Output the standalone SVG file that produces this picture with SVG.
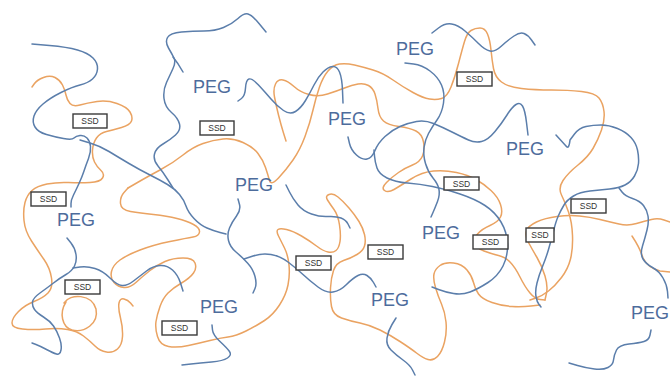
<svg xmlns="http://www.w3.org/2000/svg" width="670" height="378" viewBox="0 0 670 378">
  <style>
    .peg-chain { fill: none; stroke: #5b7eab; stroke-width: 1.5; stroke-linecap: round; stroke-linejoin: round; }
    .ssd-chain { fill: none; stroke: #eaa362; stroke-width: 1.5; stroke-linecap: round; stroke-linejoin: round; }
    .box rect { fill: #ffffff; stroke: #3a3a3a; stroke-width: 1.4; }
    .box text { font-family: "Liberation Sans", Arial, sans-serif; font-size: 8.5px; fill: #333333; text-anchor: middle; }
    .peg { font-family: "Liberation Sans", Arial, sans-serif; font-size: 18px; fill: #4d6c9c; }
  </style>
  <rect width="670" height="378" fill="#ffffff"/>

  <!-- orange chains -->
  <g id="orange-chains">
    <path class="ssd-chain" d="M128,188 L137.5,182.5 Q147,177 160,170 Q173,163 183,155 Q193,147 203,143.5 Q213,140 223,139 Q233,138 243,142.5 Q253,147 258,153.5 Q263,160 265.5,167.5 Q268,175 269.5,180.5 Q271,186 278.5,178 Q286,170 293,160 Q300,150 305,136.5 Q310,123 313,110 Q316,97 319.5,87 Q323,77 328,71 Q333,65 339.5,64 Q346,63 354.5,65 Q363,67 373,70 Q383,73 393,80 Q403,87 413,92.5 Q423,98 429.5,99 Q436,100 441.5,98.5 Q447,97 451,87 Q455,77 458.5,63.5 Q462,50 464.5,41.5 Q467,33 471,30.5 Q475,28 480,28 Q485,28 487.5,34 Q490,40 491,50 Q492,60 493.5,68.5 Q495,77 501.5,82 Q508,87 521.5,88.5 Q535,90 551.5,90 Q568,90 581.5,91.5 Q595,93 599,98 Q603,103 604,111.5 Q605,120 601.5,130 Q598,140 593,148.5 Q588,157 578,165 Q568,173 563,180.5 Q558,188 561.5,195 Q565,202 568.5,212 Q572,222 572.5,235.5 Q573,249 570.5,259 Q568,269 561.5,277.5 Q555,286 548.5,291 Q542,296 536,298 L530,300"/>
    <path class="ssd-chain" d="M128,188 L124,192.5 Q120,197 120.5,203.5 Q121,210 130.5,211.5 Q140,213 153.5,214.5 Q167,216 177,218.5 Q187,221 193.5,224.5 Q200,228 199.5,232 Q199,236 193,237 Q187,238 170,241.5 Q153,245 140,250 Q127,255 120,260 Q113,265 111.5,271.5 Q110,278 114,282.5 Q118,287 124,287.5 Q130,288 136.5,282 Q143,276 150,270.5 Q157,265 165,261.5 Q173,258 183,258 Q193,258 195,263 Q197,268 193.5,273 Q190,278 181.5,283 Q173,288 168,293 Q163,298 160,306.5 Q157,315 156,321.5 Q155,328 157.5,336.5 Q160,345 168.5,346.5 Q177,348 188.5,345.5 Q200,343 210,340.5 Q220,338 228,337 Q236,336 246,331 Q256,326 264.5,320.5 Q273,315 279.5,305 Q286,295 288,285 Q290,275 289,265 Q288,255 284.5,248 Q281,241 278.5,236 Q276,231 278,229.5 Q280,228 286.5,229.5 Q293,231 301.5,236 Q310,241 316.5,246 Q323,251 328,252 Q333,253 336,250.5 Q339,248 340,241.5 Q341,235 339.5,225 Q338,215 334,209.5 Q330,204 327.5,200 Q325,196 329,194.5 Q333,193 338,197 Q343,201 349,208 Q355,215 359,221.5 Q363,228 364.5,234.5 Q366,241 364.5,246 Q363,251 357,254.5 Q351,258 343.5,260.5 Q336,263 333.5,270.5 Q331,278 330.5,288 Q330,298 331.5,306.5 Q333,315 341.5,318 Q350,321 360,323 Q370,325 380,330 Q390,335 400,341.5 Q410,348 416.5,353 Q423,358 428,359.5 Q433,361 437.5,356.5 Q442,352 444.5,342 Q447,332 446,322 Q445,312 441.5,304 Q438,296 435.5,287.5 Q433,279 434,274 Q435,269 440,265.5 Q445,262 453.5,263 Q462,264 467,270 Q472,276 473.5,282.5 Q475,289 478.5,294 Q482,299 492,302.5 Q502,306 512,306.5 Q522,307 531,306 L540,305"/>
    <path class="ssd-chain" d="M286,141 L283.5,133 Q281,125 278.5,115 Q276,105 274.5,97 Q273,89 275.5,84 Q278,79 283,80 Q288,81 294,86.5 Q300,92 309,94.5 Q318,97 327.5,94 Q337,91 344.5,88 Q352,85 358,84 Q364,83 368.5,85.5 Q373,88 375,94 Q377,100 378,108.5 Q379,117 383.5,121 Q388,125 399,126.5 Q410,128 416,131 Q422,134 423.5,142 Q425,150 422.5,156 Q420,162 412.5,165 Q405,168 398.5,172.5 Q392,177 386.5,182.5 Q381,188 384.5,190.5 Q388,193 394,189.5 Q400,186 411,179 Q422,172 433.5,171 Q445,170 456.5,172.5 Q468,175 476,179.5 Q484,184 491,190.5 Q498,197 500.5,204.5 Q503,212 500.5,217 Q498,222 490,225.5 Q482,229 477.5,234 Q473,239 474.5,243.5 Q476,248 484,251 Q492,254 498.5,255.5 Q505,257 510,262 Q515,267 520,277 Q525,287 530,293 Q535,299 540,299.5 L545,300"/>
    <path class="ssd-chain" d="M32,87 L34.5,83.5 Q37,80 43.5,77.5 Q50,75 55,77.5 Q60,80 62.5,85 Q65,90 66,95 Q67,100 70,103.5 Q73,107 80,105 Q87,103 97,101.5 Q107,100 117,103.5 Q127,107 130,112 Q133,117 131.5,121 Q130,125 121.5,127.5 Q113,130 106.5,131.5 Q100,133 96.5,138 Q93,143 92.5,150 Q92,157 94.5,162 Q97,167 101,170.5 Q105,174 102.5,178 Q100,182 90,182.5 Q80,183 68.5,182.5 Q57,182 47,184 Q37,186 32,190.5 Q27,195 25,202.5 Q23,210 24,220.5 Q25,231 31.5,241 Q38,251 44,259.5 Q50,268 51.5,278 Q53,288 48,293 Q43,298 34,301.5 Q25,305 18.5,311.5 Q12,318 12,323 Q12,328 22.5,329 Q33,330 45.5,329 Q58,328 67.5,329.5 Q77,331 83.5,336 Q90,341 95,346 Q100,351 106.5,352 Q113,353 117.5,349 Q122,345 122.5,336.5 Q123,328 120.5,318 Q118,308 119,303 Q120,298 124,299 Q128,300 130.5,303 L133,306"/>
    <path class="ssd-chain" d="M64,303 C70,293 92,294 96,309 C99,324 84,333 72,330 C62,327 59,313 66,302"/>
    <path class="ssd-chain" d="M545,300 L546.5,293 Q548,286 545,276 Q542,266 537,257.5 Q532,249 528.5,242.5 Q525,236 526.5,231 Q528,226 536.5,222 Q545,218 557,216.5 Q569,215 579.5,216 Q590,217 600,219.5 Q610,222 619,224 Q628,226 636.5,223.5 Q645,221 651.5,219.5 Q658,218 664,220 L670,222"/>
    <path class="ssd-chain" d="M632,236 Q640,248 643,258 Q648,268 660,271 L670,272"/>
  </g>

  <!-- blue chains -->
  <g id="blue-chains">
    <path class="peg-chain" d="M32,44 L49.5,45.5 Q67,47 77.5,50 Q88,53 93,58 Q98,63 97.5,69 Q97,75 92.5,79 Q88,83 80,85 Q72,87 61,92.5 Q50,98 43,104 Q36,110 34,116 Q32,122 35,127 Q38,132 46.5,134.5 Q55,137 63.5,138.5 Q72,140 74,138 Q76,136 80,135.5 Q84,135 87,138 Q90,141 90.5,146.5 Q91,152 88.5,158.5 Q86,165 84,171 Q82,177 79,183.5 Q76,190 73.5,195 Q71,200 71,203.5 L71,207"/>
    <path class="peg-chain" d="M80,140 L90,143 Q100,146 109,151.5 Q118,157 129,163.5 Q140,170 150,175 Q160,180 167.5,184.5 Q175,189 179.5,194.5 Q184,200 186,206 Q188,212 194,218.5 Q200,225 207,228 Q214,231 220,232.5 L226,234"/>
    <path class="peg-chain" d="M266,32 L259,23.5 Q252,15 248,14 Q244,13 238,18.5 Q232,24 223.5,27.5 Q215,31 204,31 Q193,31 181.5,32 Q170,33 167.5,37.5 Q165,42 168.5,48 Q172,54 174,58 Q176,62 173,68.5 Q170,75 166.5,82.5 Q163,90 164,98.5 Q165,107 171.5,112.5 Q178,118 179.5,124 Q181,130 175.5,135 Q170,140 163,144 Q156,148 154.5,154 Q153,160 158,166 Q163,172 168,180 L173,188"/>
    <path class="peg-chain" d="M173,57 Q178,63 183,72"/>
    <path class="peg-chain" d="M238,101 L241.5,98.5 Q245,96 245.5,88 Q246,80 249,79 Q252,78 258.5,85 Q265,92 271,99 Q277,106 283.5,110.5 Q290,115 295.5,111.5 Q301,108 305.5,100.5 Q310,93 314,85 Q318,77 323,72 Q328,67 332.5,66.5 Q337,66 339.5,72 Q342,78 342.5,90.5 L343,103"/>
    <path class="peg-chain" d="M405,63 L413.5,64 Q422,65 430,71 Q438,77 441.5,85 Q445,93 443.5,103 Q442,113 437,120 Q432,127 428.5,133.5 Q425,140 424,147.5 Q423,155 425.5,163.5 Q428,172 433,178 Q438,184 439,189.5 Q440,195 437.5,201.5 Q435,208 433,212.5 L431,217"/>
    <path class="peg-chain" d="M348,137 L349.5,143.5 Q351,150 356.5,155 Q362,160 367,159 Q372,158 375,150.5 Q378,143 385,136.5 Q392,130 400,126.5 Q408,123 416.5,121.5 Q425,120 433.5,123.5 Q442,127 452,132 Q462,137 468.5,140 Q475,143 481.5,141.5 Q488,140 495,131.5 Q502,123 507,115 Q512,107 516,104.5 Q520,102 522.5,106 Q525,110 526.5,122.5 L528,135"/>
    <path class="peg-chain" d="M374,150 L374.5,156 Q375,162 377,168 Q379,174 387,178 Q395,182 407.5,183 Q420,184 432.5,186.5 Q445,189 460,194 Q475,199 485,205.5 Q495,212 501,222 Q507,232 507.5,244 Q508,256 503,266 Q498,276 488,282.5 Q478,289 470,292 Q462,295 453.5,293.5 Q445,292 438.5,289.5 L432,287"/>
    <path class="peg-chain" d="M432,33 L438.5,28 Q445,23 451.5,24 Q458,25 465,31 Q472,37 478.5,43.5 Q485,50 490,51 Q495,52 501.5,46 Q508,40 514,36 Q520,32 524,33.5 Q528,35 531.5,40 L535,45"/>
    <path class="peg-chain" d="M556,135 L566,146 Q569,150 570,140 L574.5,134 Q579,128 586,126.5 Q593,125 601,125 Q609,125 617.5,128.5 Q626,132 631,137.5 Q636,143 637.5,150 Q639,157 638.5,163.5 Q638,170 634.5,176 Q631,182 625,185 Q619,188 609.5,189 Q600,190 590,191 Q580,192 573.5,196 Q567,200 564,205 Q561,210 558.5,215.5 Q556,221 553.5,231 Q551,241 548.5,249.5 Q546,258 542.5,266.5 Q539,275 537,283 Q535,291 536,296.5 Q537,302 539,304.5 L541,307"/>
    <path class="peg-chain" d="M619,188 L622,192 Q625,196 632.5,198.5 Q640,201 643.5,205.5 Q647,210 648,216 Q649,222 647,230 Q645,238 642.5,246 Q640,254 643,259 Q646,264 652.5,267.5 Q659,271 663,278 Q667,285 667.5,291.5 L668,298"/>
    <path class="peg-chain" d="M651,330 L650,335 Q649,340 644,341.5 Q639,343 629,344 Q619,345 616.5,350 Q614,355 613.5,360 Q613,365 608,367.5 Q603,370 594.5,369 Q586,368 577.5,365.5 L569,363"/>
    <path class="peg-chain" d="M238,199 L239.5,204.5 Q241,210 236.5,216 Q232,222 229.5,228 Q227,234 228.5,240.5 Q230,247 236,252 Q242,257 247.5,263 Q253,269 255,276.5 Q257,284 255,288.5 L253,293"/>
    <path class="peg-chain" d="M244,259 L253,256 Q262,253 271,254.5 Q280,256 288,262 Q296,268 303,274.5 Q310,281 318,287 Q326,293 333,292 Q340,291 346.5,284.5 Q353,278 358,275.5 Q363,273 367,275.5 Q371,278 373.5,282.5 L376,287"/>
    <path class="peg-chain" d="M286,185 L289.5,192 Q293,199 298,205 Q303,211 311.5,214 Q320,217 328,216.5 Q336,216 341,218 Q346,220 348,224 L350,228"/>
    <path class="peg-chain" d="M396,318 L392,324.5 Q388,331 387,338 Q386,345 391,350 Q396,355 403,360 Q410,365 412.5,370 L415,375"/>
    <path class="peg-chain" d="M67,238 L71,243 Q75,248 76,254.5 Q77,261 74.5,266 Q72,271 66,274.5 Q60,278 53.5,283 Q47,288 40,293 Q33,298 32.5,302 Q32,306 34.5,309.5 Q37,313 43.5,317 Q50,321 53.5,326 Q57,331 59.5,338 Q62,345 61,350 Q60,355 56.5,354 Q53,353 46.5,349.5 Q40,346 36,344.5 L32,343"/>
    <path class="peg-chain" d="M73,268 L80,267 Q87,266 95,268.5 Q103,271 110,278 Q117,285 122,285.5 Q127,286 133.5,281 Q140,276 146.5,271 Q153,266 160,265.5 Q167,265 172.5,270 Q178,275 180.5,283 L183,291"/>
    <path class="peg-chain" d="M212,325 L212.5,330 Q213,335 220,341.5 Q227,348 229.5,351.5 Q232,355 227.5,358 Q223,361 211.5,362 Q200,363 191,364 L182,365"/>
  </g>

  <!-- SSD boxes -->
  <g id="ssd-1" class="box"><rect x="73" y="114" width="34" height="14"/><text x="90" y="124">SSD</text></g>
  <g id="ssd-2" class="box"><rect x="200" y="121" width="34" height="14"/><text x="217" y="131">SSD</text></g>
  <g id="ssd-3" class="box"><rect x="457" y="72" width="35" height="14"/><text x="474.5" y="82">SSD</text></g>
  <g id="ssd-4" class="box"><rect x="444" y="177" width="35" height="13"/><text x="461.5" y="186.5">SSD</text></g>
  <g id="ssd-5" class="box"><rect x="31" y="192" width="35" height="14"/><text x="48.5" y="202">SSD</text></g>
  <g id="ssd-6" class="box"><rect x="65" y="280" width="35" height="14"/><text x="82.5" y="290">SSD</text></g>
  <g id="ssd-7" class="box"><rect x="162" y="321" width="35" height="14"/><text x="179.5" y="331">SSD</text></g>
  <g id="ssd-8" class="box"><rect x="296" y="256" width="35" height="14"/><text x="313.5" y="266">SSD</text></g>
  <g id="ssd-9" class="box"><rect x="368" y="245" width="35" height="14"/><text x="385.5" y="255">SSD</text></g>
  <g id="ssd-10" class="box"><rect x="473" y="235" width="35" height="14"/><text x="490.5" y="245">SSD</text></g>
  <g id="ssd-11" class="box"><rect x="526" y="228" width="28" height="14"/><text x="540" y="238">SSD</text></g>
  <g id="ssd-12" class="box"><rect x="571" y="199" width="35" height="14"/><text x="588.5" y="209">SSD</text></g>

  <!-- PEG labels -->
  <g id="peg-labels">
    <text class="peg" x="193" y="93">PEG</text>
    <text class="peg" x="328" y="125">PEG</text>
    <text class="peg" x="396" y="55">PEG</text>
    <text class="peg" x="506" y="155">PEG</text>
    <text class="peg" x="235" y="191">PEG</text>
    <text class="peg" x="57" y="226">PEG</text>
    <text class="peg" x="371" y="306">PEG</text>
    <text class="peg" x="422" y="239">PEG</text>
    <text class="peg" x="200" y="313">PEG</text>
    <text class="peg" x="631" y="319">PEG</text>
  </g>
</svg>
